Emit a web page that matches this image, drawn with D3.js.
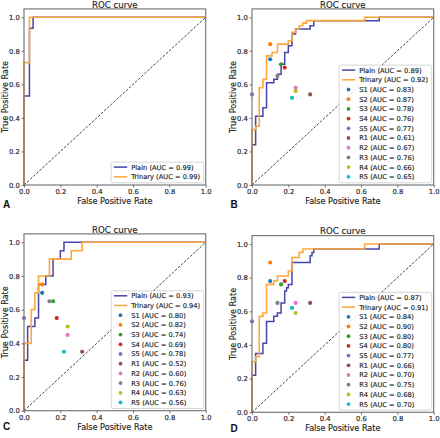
<!DOCTYPE html>
<html><head><meta charset="utf-8">
<script src="https://cdn.jsdelivr.net/npm/d3@7"></script>
<style>body{margin:0;background:#fff}svg{display:block}</style>
</head><body><svg id="c" width="440" height="438"></svg>
<script>
// ---------- data ----------
const tickValues = [0, 0.2, 0.4, 0.6, 0.8, 1.0];
const classifierNames = ["S1","S2","S3","S4","S5","R1","R2","R3","R4","R5"];
const classifierColors = ["#1f77b4","#ff7f0e","#2ca02c","#d62728","#9467bd","#8c564b","#e377c2","#7f7f7f","#bcbd22","#17becf"];
const aucPlain = [0.99, 0.89, 0.93, 0.87];
const aucTrinary = [0.99, 0.92, 0.94, 0.91];

const plainA = [[0,0],[0,0.53],[0.03,0.53],[0.03,0.935],[0.05,0.935],[0.05,1],[1,1]];
const trinaryA = [[0,0],[0,0.73],[0.03,0.73],[0.03,1],[1,1]];

const plainB = [[0,0],[0,0.24],[0.02,0.24],[0.02,0.41],[0.06,0.41],[0.06,0.46],[0.08,0.46],[0.08,0.61],[0.12,0.61],[0.12,0.63],[0.14,0.63],[0.14,0.66],[0.16,0.66],[0.16,0.72],[0.18,0.72],[0.18,0.79],[0.2,0.79],[0.2,0.83],[0.22,0.83],[0.22,0.90],[0.24,0.90],[0.24,0.93],[0.32,0.93],[0.32,0.95],[0.34,0.95],[0.34,0.98],[0.70,0.98],[0.70,1],[1,1]];
const trinaryB = [[0,0],[0,0.33],[0.02,0.33],[0.02,0.35],[0.04,0.35],[0.04,0.58],[0.06,0.58],[0.06,0.63],[0.08,0.63],[0.08,0.77],[0.11,0.77],[0.11,0.79],[0.14,0.79],[0.14,0.84],[0.2,0.84],[0.2,0.86],[0.22,0.86],[0.22,0.91],[0.24,0.91],[0.24,0.93],[0.26,0.93],[0.26,0.95],[0.28,0.95],[0.28,0.965],[0.30,0.965],[0.30,0.98],[0.62,0.98],[0.62,1],[1,1]];
const fprB = [0.10,0.10,0.16,0.18,0.00,0.32,0.24,0.14,0.24,0.22];
const tprB = [0.75,0.84,0.72,0.70,0.54,0.54,0.58,0.65,0.56,0.52];
const aucB = [0.83,0.87,0.78,0.76,0.77,0.61,0.67,0.76,0.66,0.65];

const plainC = [[0,0],[0,0.3],[0.02,0.3],[0.02,0.5],[0.06,0.5],[0.06,0.55],[0.08,0.55],[0.08,0.75],[0.12,0.75],[0.12,0.8],[0.16,0.8],[0.16,0.9],[0.2,0.9],[0.2,0.95],[0.22,0.95],[0.22,1],[1,1]];
const trinaryC = [[0,0],[0,0.4],[0.04,0.4],[0.04,0.6],[0.06,0.6],[0.06,0.7],[0.08,0.7],[0.08,0.8],[0.14,0.8],[0.14,0.9],[0.26,0.9],[0.26,0.95],[0.32,0.95],[0.32,1],[1,1]];
const fprC = [0.10,0.10,0.16,0.18,0.00,0.32,0.24,0.14,0.24,0.22];
const tprC = [0.70,0.75,0.65,0.55,0.55,0.35,0.45,0.65,0.50,0.35];
const aucC = [0.80,0.82,0.74,0.69,0.78,0.52,0.60,0.76,0.63,0.56];

const plainD = [[0,0],[0,0.22],[0.02,0.22],[0.02,0.35],[0.06,0.35],[0.06,0.41],[0.08,0.41],[0.08,0.54],[0.12,0.54],[0.12,0.57],[0.14,0.57],[0.14,0.59],[0.16,0.59],[0.16,0.65],[0.18,0.65],[0.18,0.72],[0.19,0.72],[0.19,0.74],[0.2,0.74],[0.2,0.76],[0.22,0.76],[0.22,0.89],[0.32,0.89],[0.32,0.93],[0.33,0.93],[0.33,0.95],[0.34,0.95],[0.34,0.97],[0.70,0.97],[0.70,1],[1,1]];
const trinaryD = [[0,0],[0,0.30],[0.02,0.30],[0.02,0.33],[0.04,0.33],[0.04,0.57],[0.06,0.57],[0.06,0.59],[0.08,0.59],[0.08,0.76],[0.12,0.76],[0.12,0.78],[0.14,0.78],[0.14,0.81],[0.2,0.81],[0.2,0.84],[0.22,0.84],[0.22,0.92],[0.26,0.92],[0.26,0.95],[0.28,0.95],[0.28,0.97],[0.62,0.97],[0.62,1],[1,1]];
const fprD = [0.10,0.10,0.16,0.18,0.00,0.32,0.24,0.14,0.24,0.22];
const tprD = [0.78,0.89,0.76,0.78,0.54,0.65,0.65,0.65,0.59,0.62];
const aucD = [0.84,0.90,0.80,0.80,0.77,0.66,0.70,0.75,0.68,0.70];

// ---------- layout ----------
const panels = [
  {letter:"A", left:24,  right:205.7, bottom:185,   top1:17.3,  ylabX:5,   letterX:3,   letterY:207.8, plain:plainA, trin:trinaryA, idx:0, fpr:null},
  {letter:"B", left:252, right:433.7, bottom:185,   top1:17.3,  ylabX:233, letterX:230.5, letterY:207.8, plain:plainB, trin:trinaryB, idx:1, fpr:fprB, tpr:tprB, auc:aucB},
  {letter:"C", left:24,  right:205.7, bottom:410.7, top1:242.3, ylabX:5,   letterX:3,   letterY:429.5, plain:plainC, trin:trinaryC, idx:2, fpr:fprC, tpr:tprC, auc:aucC},
  {letter:"D", left:252, right:433.7, bottom:412.3, top1:244,   ylabX:233, letterX:230.5, letterY:431.5, plain:plainD, trin:trinaryD, idx:3, fpr:fprD, tpr:tprD, auc:aucD}
];
const BLUE = "#4545aa", ORANGE = "#ffa63a";
const FONT = "DejaVu Sans, sans-serif";
const TXT = "#1e1e1e";
const svg = d3.select("#c");

panels.forEach(p => {
  const x = d3.scaleLinear().domain([0,1]).range([p.left, p.right]);
  const y = d3.scaleLinear().domain([0,1]).range([p.bottom, p.top1]);
  const g = svg.append("g");
  const line = d3.line().x(d => x(d[0])).y(d => y(d[1]));

  g.append("path").attr("d", line(p.plain)).attr("fill","none").attr("stroke",BLUE).attr("stroke-width",1.5);
  g.append("path").attr("d", line(p.trin)).attr("fill","none").attr("stroke",ORANGE).attr("stroke-width",1.6);
  g.append("path").attr("d", line([[0,0],[1,1]])).attr("fill","none").attr("stroke","#111").attr("stroke-width",0.8).attr("stroke-dasharray","2.6,1.6");

  if (p.fpr) {
    g.selectAll("circle.pt").data(p.fpr.map((f,i)=>({f, t:p.tpr[i], c:classifierColors[i]})))
      .enter().append("circle").attr("class","pt")
      .attr("cx", d => x(d.f)).attr("cy", d => y(d.t)).attr("r", 2.1).attr("fill", d => d.c);
  }

  g.append("rect").attr("x", p.left).attr("y", y(1.05)).attr("width", p.right - p.left).attr("height", p.bottom - y(1.05))
    .attr("fill","none").attr("stroke","#7a7a7a").attr("stroke-width",1.2);

  const fmt = d3.format(".1f");
  const ax = g.append("g").attr("transform",`translate(0,${p.bottom})`)
    .call(d3.axisBottom(x).tickValues(tickValues).tickFormat(fmt).tickSize(2.5).tickSizeOuter(0).tickPadding(1.5));
  const ay = g.append("g").attr("transform",`translate(${p.left},0)`)
    .call(d3.axisLeft(y).tickValues(tickValues).tickFormat(fmt).tickSize(2.5).tickSizeOuter(0).tickPadding(1.8));
  [ax, ay].forEach(a => {
    a.select(".domain").remove();
    a.selectAll(".tick line").attr("stroke","#555").attr("stroke-width",0.8);
    a.selectAll("text").attr("font-family",FONT).attr("font-size",6.8).attr("fill",TXT)
      .attr("stroke",TXT).attr("stroke-width",0.15);
  });

  const txt = sel => sel.attr("font-family",FONT).attr("fill",TXT).attr("stroke",TXT).attr("stroke-width",0.15);
  g.append("text").attr("x",(p.left+p.right)/2).attr("y",p.bottom+19).attr("text-anchor","middle")
    .attr("font-size",8.1).call(txt).text("False Positive Rate");
  g.append("text").attr("transform",`translate(${p.ylabX+3},${(y(0)+y(1.05))/2}) rotate(-90)`).attr("text-anchor","middle")
    .attr("font-size",8.1).call(txt).text("True Positive Rate");
  g.append("text").attr("x",(p.left+p.right)/2).attr("y",y(1.05)-1.2).attr("text-anchor","middle")
    .attr("font-size",8.6).call(txt).text("ROC curve");
  g.append("text").attr("x",p.letterX).attr("y",p.letterY)
    .attr("font-family","Liberation Sans, Arial, sans-serif").attr("font-weight","bold").attr("font-size",10).attr("fill","#111").text(p.letter);

  const items = [{lab:`Plain (AUC = ${aucPlain[p.idx].toFixed(2)})`, type:"line", c:BLUE},
                 {lab:`Trinary (AUC = ${aucTrinary[p.idx].toFixed(2)})`, type:"line", c:ORANGE}];
  if (p.fpr) classifierNames.forEach((n,i) => items.push({lab:`${n} (AUC = ${p.auc[i].toFixed(2)})`, type:"dot", c:classifierColors[i]}));
  const rowH = 9.7, lw = 92.5, lh = items.length*rowH + 1.3;
  const lx = p.right - 2 - lw, ly = p.bottom - 2.2 - lh;
  const lg = g.append("g");
  lg.append("rect").attr("x",lx).attr("y",ly).attr("width",lw).attr("height",lh).attr("rx",1.5)
    .attr("fill","white").attr("fill-opacity",0.8).attr("stroke","#cccccc").attr("stroke-width",0.8);
  items.forEach((it,i) => {
    const cy = ly + 5 + i*rowH;
    if (it.type === "line") lg.append("line").attr("x1",lx+2.7).attr("x2",lx+16).attr("y1",cy).attr("y2",cy).attr("stroke",it.c).attr("stroke-width",1.5);
    else lg.append("circle").attr("cx",lx+9.3).attr("cy",cy).attr("r",1.9).attr("fill",it.c);
    lg.append("text").attr("x",lx+20).attr("y",cy+2.4).attr("font-size",6.7).call(txt).text(it.lab);
  });
});
</script></body></html>
